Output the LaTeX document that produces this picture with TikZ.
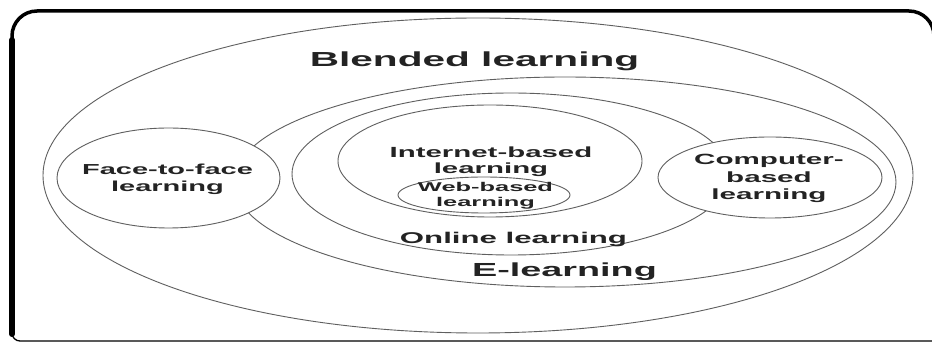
\documentclass[tikz,border=0pt]{standalone}
\usepackage{fontspec}
\setmainfont{Liberation Sans}
\usepackage{graphicx}
\usetikzlibrary{shapes.geometric}
\definecolor{linegray}{RGB}{95,95,95}
\definecolor{txtcol}{RGB}{35,35,35}
\newcommand{\stretchlbl}[2]{\scalebox{#1}[1]{\begin{tabular}[t]{@{}c@{}}#2\end{tabular}}}
\begin{document}
\begin{tikzpicture}[x=1pt,y=-1pt,
  ring/.style={ellipse, draw=linegray, line width=0.9pt, fill=white, inner sep=0pt, outer sep=0pt},
  lbl/.style={text=txtcol, inner sep=0pt, anchor=base},
  frameline/.style={draw=black, line cap=round}]
\useasboundingbox (0,0) rectangle (932,344);
\fill[white] (0,0) rectangle (932,344);
% frame
\draw[frameline, line width=3.5pt, rounded corners=25pt] (12,330) -- (12,11) -- (934,11) -- (934,341);
\draw[frameline, line width=1.3pt, rounded corners=8pt] (12,320) -- (12,341) -- (934,341);
\draw[frameline, line width=6pt] (12,40) -- (12,334);
% ellipses
\node[ring, minimum width=870pt, minimum height=315pt] (blended) at (478,175.5) {};
\node[ring, minimum width=662pt, minimum height=210pt] (elearn) at (565,182) {};
\node[ring, minimum width=438pt, minimum height=162pt] (online) at (511,174) {};
\node[ring, minimum width=304pt, minimum height=112pt] (internet) at (490,161) {};
\node[ring, minimum width=172pt, minimum height=36pt] (web) at (484,195) {};
\node[ring, minimum width=223pt, minimum height=100pt] (face) at (168.5,178) {};
\node[ring, minimum width=224pt, minimum height=81pt] (computer) at (770,177.5) {};
% labels
\node[lbl, font=\fontsize{20.3pt}{22pt}\selectfont\bfseries] (tblended) at (474.5,67) {\stretchlbl{2}{Blended learning}};
\node[lbl, font=\fontsize{18.9pt}{21pt}\selectfont\bfseries] (telearn) at (564.5,277) {\stretchlbl{2}{E-learning}};
\node[lbl, font=\fontsize{15.6pt}{17pt}\selectfont\bfseries] (tonline) at (513.5,244) {\stretchlbl{2}{Online learning}};
\node[lbl, font=\fontsize{14.7pt}{15.5pt}\selectfont\bfseries] (tinternet) at (491,158) {\stretchlbl{2}{Internet-based\\learning}};
\node[lbl, font=\fontsize{12.7pt}{15pt}\selectfont\bfseries] (tweb) at (485.5,192) {\stretchlbl{2}{Web-based\\learning}};
\node[lbl, font=\fontsize{14.8pt}{17.5pt}\selectfont\bfseries] (tcomputer) at (769,165) {\stretchlbl{2}{Computer-\\based\\learning}};
\node[lbl, font=\fontsize{14.5pt}{17pt}\selectfont\bfseries] (tface) at (167.5,175) {\stretchlbl{2}{Face-to-face\\learning}};
\end{tikzpicture}
\end{document}
